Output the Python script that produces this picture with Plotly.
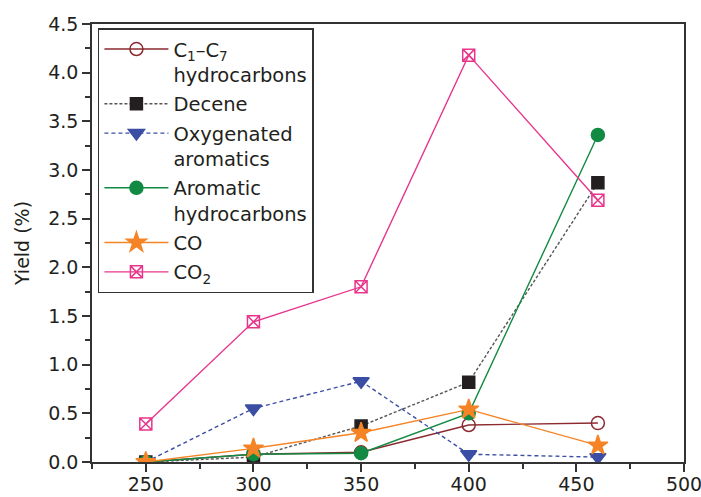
import plotly.graph_objects as go

temps = [250, 300, 350, 400, 460]
c1_c7 = [0.0, 0.08, 0.10, 0.38, 0.40]
decene = [0.0, 0.05, 0.37, 0.82, 2.87]
oxygenated = [0.0, 0.55, 0.83, 0.08, 0.05]
aromatic = [0.0, 0.08, 0.09, 0.50, 3.36]
co = [0.0, 0.14, 0.30, 0.54, 0.17]
co2 = [0.39, 1.44, 1.80, 4.18, 2.69]

x_ticks = [250, 300, 350, 400, 450, 500]
y_ticks = [0.0, 0.5, 1.0, 1.5, 2.0, 2.5, 3.0, 3.5, 4.0, 4.5]

series = [
    ("C<sub>1</sub>–C<sub>7</sub><br>hydrocarbons", c1_c7, "#8b2a2f", "#8b2a2f", "solid", "circle-open", 13),
    ("Decene", decene, "#555555", "#231f20", "3px,2px", "square", 12),
    ("Oxygenated<br>aromatics", oxygenated, "#3b4ea3", "#3b4ea3", "4px,3px", "triangle-down", 14),
    ("Aromatic<br>hydrocarbons", aromatic, "#138a43", "#138a43", "solid", "circle", 13),
    ("CO", co, "#f58426", "#f58426", "solid", "star", 15),
    ("CO<sub>2</sub>", co2, "#e8358c", "#e8358c", "solid", "square-x-open", 12),
]

fig = go.Figure()
for i, (name, vals, lcolor, mcolor, dash, sym, size) in enumerate(series):
    fig.add_trace(go.Scatter(
        x=temps, y=vals, name=name, mode="lines+markers", legendgroup=f"g{i}",
        line=dict(color=lcolor, width=1.4, dash=dash),
        marker=dict(symbol=sym, size=size, color=mcolor,
                    line=dict(color=mcolor, width=1.5)),
    ))

font_family = "DejaVu Sans, sans-serif"
axis_color = "#333333"

fig.update_layout(
    width=701, height=497,
    margin=dict(l=92, r=17, t=24, b=35),
    paper_bgcolor="white", plot_bgcolor="white",
    font=dict(family=font_family, size=19, color="#231f20"),
    showlegend=True,
    legend=dict(
        x=0.01, y=0.99, xanchor="left", yanchor="top",
        bordercolor=axis_color, borderwidth=1.5, bgcolor="white",
        font=dict(size=19.5), itemwidth=64, valign="top",
        tracegroupgap=1,
    ),
    xaxis=dict(
        range=[225, 500], tickvals=x_ticks, ticktext=[str(t) for t in x_ticks],
        showline=True, linecolor=axis_color, linewidth=1.5, mirror=True,
        ticks="outside", ticklen=8, tickwidth=1.5, tickcolor=axis_color,
        minor=dict(ticks="outside", dtick=25, tick0=225, ticklen=5, tickwidth=1.5, tickcolor=axis_color),
        showgrid=False, zeroline=False, automargin=False,
        tickfont=dict(size=19), ticklabelstandoff=-4, ticklabeloverflow="allow",
    ),
    yaxis=dict(
        range=[0, 4.5], tickvals=y_ticks, ticktext=[f"{t:.1f}" for t in y_ticks],
        showline=True, linecolor=axis_color, linewidth=1.5, mirror=True,
        ticks="outside", ticklen=8, tickwidth=1.5, tickcolor=axis_color,
        minor=dict(ticks="outside", dtick=0.25, ticklen=5, tickwidth=1.5, tickcolor=axis_color),
        showgrid=False, zeroline=False, automargin=False,
        title=dict(text="Yield (%)", font=dict(size=19), standoff=14),
        tickfont=dict(size=19),
    ),
)

fig.write_html("out.html")
